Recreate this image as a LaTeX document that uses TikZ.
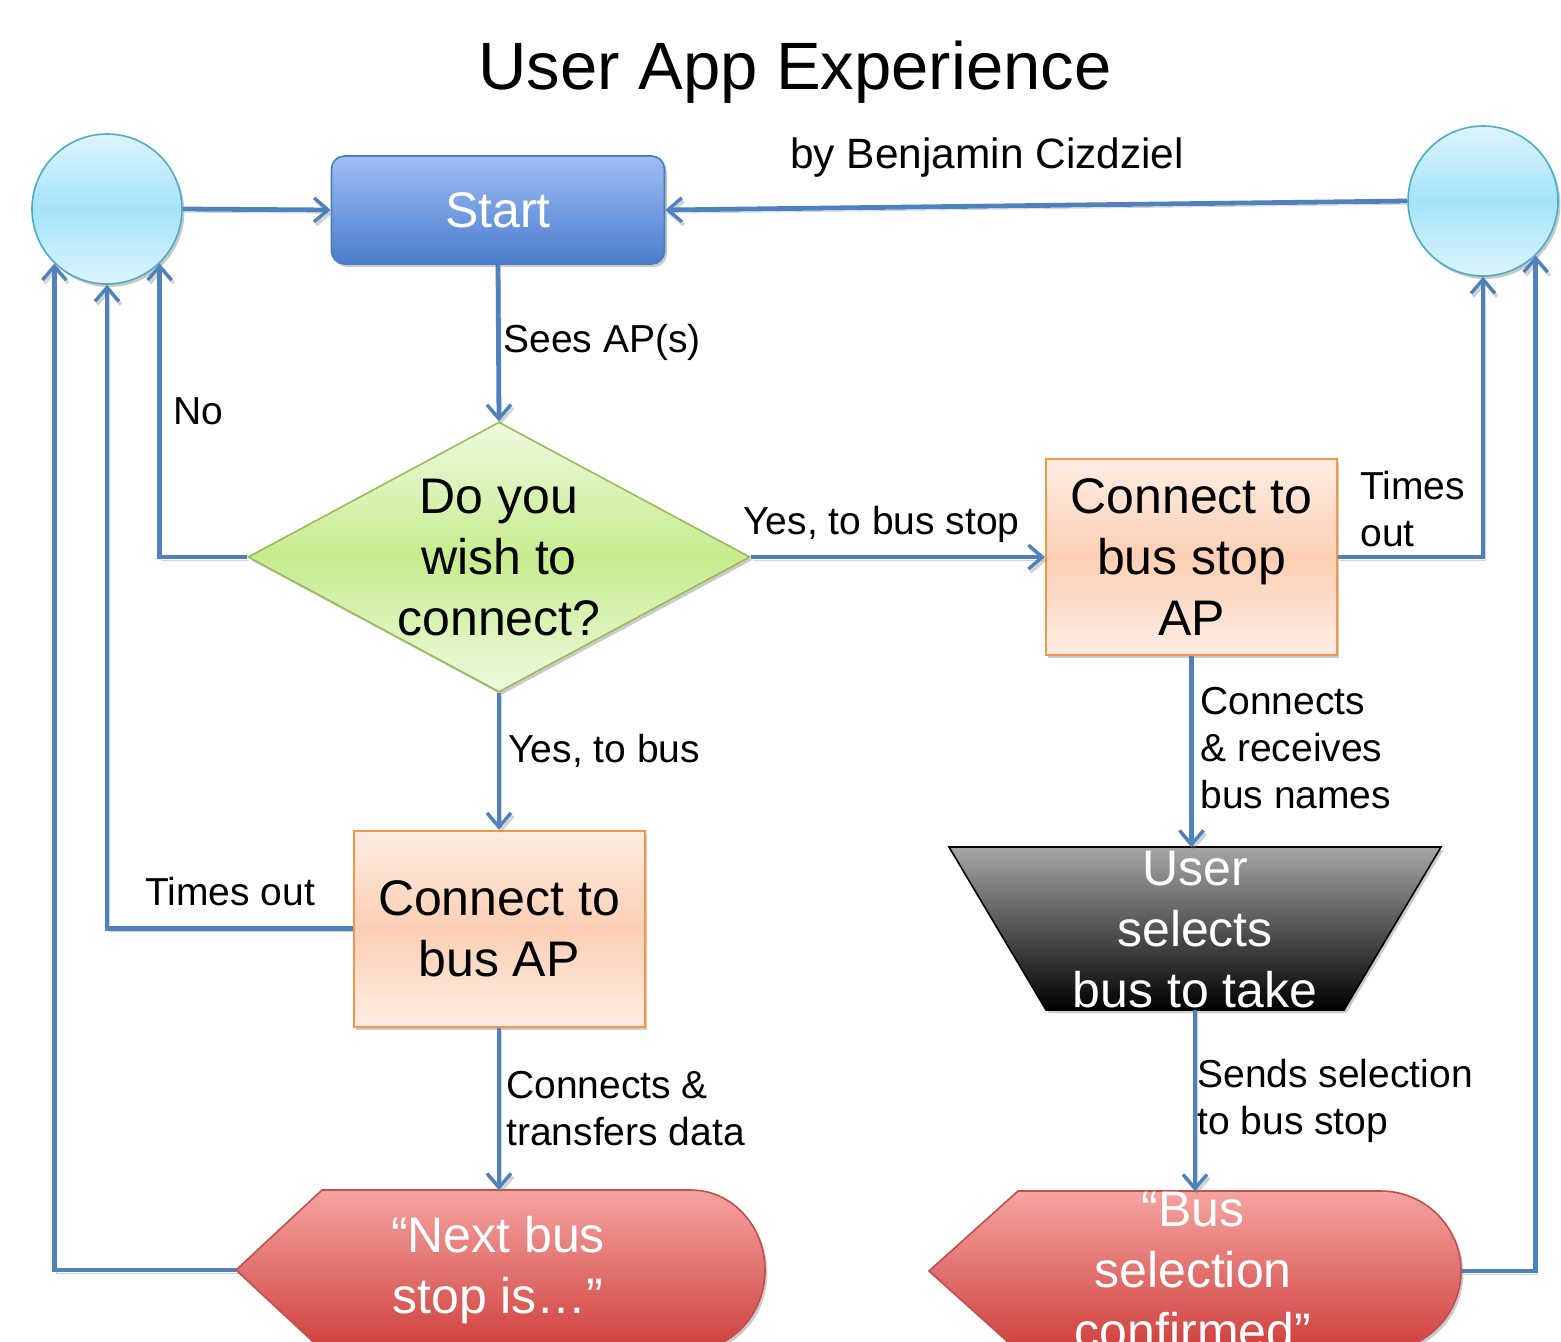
\documentclass[tikz,border=0pt]{standalone}
\usepackage{fontspec}
\setmainfont{Liberation Sans}
\usetikzlibrary{shapes.geometric,arrows.meta,shadows}

\definecolor{flow}{HTML}{4F81BD}
\definecolor{circb}{HTML}{4BACC6}
\definecolor{circl}{HTML}{DDF4FD}
\definecolor{circm}{HTML}{A5E3FA}
\definecolor{startb}{HTML}{4A7EBB}
\definecolor{startt}{HTML}{A0BDF6}
\definecolor{startbot}{HTML}{4A7DCC}
\definecolor{diab}{HTML}{9BBB59}
\definecolor{dial}{HTML}{EEFADF}
\definecolor{diam}{HTML}{C6EC8E}
\definecolor{procb}{HTML}{F79646}
\definecolor{procl}{HTML}{FEEDE4}
\definecolor{procm}{HTML}{FCCFB4}
\definecolor{dispb}{HTML}{C0504D}
\definecolor{dispt}{HTML}{F5A4A1}
\definecolor{dispbot}{HTML}{CF3F3C}
\definecolor{trapt}{HTML}{A6A6A6}

\begin{document}
\begin{tikzpicture}[x=0.5pt,y=-0.5pt,
  shapetext/.style={font=\fontsize{25}{30.5}\selectfont, align=center, inner sep=0pt},
  lbl/.style={font=\fontsize{19.5}{23.5}\selectfont, align=left, anchor=west, inner sep=0pt},
  softshadow/.style={drop shadow={shadow xshift=1.2pt, shadow yshift=-1.5pt, opacity=.35, fill=black!60}},
  flowline/.style={draw=flow, line width=2.4pt,
    -{Straight Barb[length=7pt,width=12pt,line width=1.7pt]},
    preaction={draw=black!50, opacity=.35, transform canvas={shift={(1pt,-1.6pt)}}}},
  circ/.style={circle, draw=circb, line width=0.8pt, minimum size=75pt, inner sep=0pt,
    top color=circl, bottom color=circl, middle color=circm, softshadow},
  startbox/.style={rectangle, rounded corners=6.5pt, draw=startb, line width=0.8pt,
    minimum width=166.5pt, minimum height=54pt, top color=startt, bottom color=startbot,
    text=white, shapetext, softshadow},
  procbox/.style={rectangle, draw=procb, line width=1pt, minimum width=145.5pt,
    minimum height=98pt, top color=procl, bottom color=procl, middle color=procm,
    shapetext, softshadow},
  decision/.style={diamond, draw=diab, line width=0.8pt, minimum width=251pt,
    minimum height=135pt, inner sep=0pt, top color=dial, bottom color=dial,
    middle color=diam, softshadow},
  manual/.style={draw=black, line width=0.8pt, top color=trapt, bottom color=black, softshadow},
  display/.style={draw=dispb, line width=0.8pt, top color=dispt, bottom color=dispbot, softshadow}
]
\useasboundingbox (0,0) rectangle (1561,1341);
\clip (0,0) rectangle (1561,1341);

% headings
\node[font=\fontsize{33.5}{40}\selectfont, inner sep=0pt] (title) at (795,72) {User App Experience};
\node[font=\fontsize{21.2}{25}\selectfont, anchor=west, inner sep=0pt] (by) at (790,158) {by Benjamin Cizdziel};

% connector circles
\node[circ] (cl) at (107,209) {};
\node[circ] (cr) at (1483,201) {};

% start, decision and process boxes
\node[startbox] (start) at (498,210) {Start};
\node[decision] (dia) at (499,557) {};
\node[shapetext] (diaT) at (499,558) {Do you\\wish to\\connect?};
\node[procbox] (boxS) at (1191.5,557) {Connect to\\bus stop\\AP};
\node[procbox] (boxB) at (499,928.5) {Connect to\\bus AP};

% manual input: user picks a bus
\path[manual] (949,847) -- (1441,847) -- (1344,1010) -- (1046,1010) -- cycle;
\coordinate (trapN) at (1195,847);
\coordinate (trapS) at (1195,1010);
\node[shapetext, text=white] (trapT) at (1195,930) {User\\selects\\bus to take};

% display shapes
\path[display] (236,1270) -- (322,1190) -- (691,1190)
  .. controls (732,1190) and (765,1226) .. (765,1270)
  .. controls (765,1314) and (732,1350) .. (691,1350) -- (322,1350) -- cycle;
\coordinate (dlN) at (499,1190);
\coordinate (dlW) at (236,1270);
\node[shapetext, text=white] (dlT) at (498,1270) {“Next bus\\stop is…”};

\path[display] (929,1271) -- (1018,1191) -- (1381,1191)
  .. controls (1425,1191) and (1461,1227) .. (1461,1271)
  .. controls (1461,1315) and (1425,1351) .. (1381,1351) -- (1018,1351) -- cycle;
\coordinate (drN) at (1195,1191);
\coordinate (drE) at (1461,1271);
\node[shapetext, text=white] (drT) at (1193,1271) {“Bus\\selection\\confirmed”};

% connectors
\draw[flowline] (cl.east) -- (start.west);
\draw[flowline] (cr.west) -- (start.east);
\draw[flowline] (start.south) -- (dia.north);
\draw[flowline] (dia.west) -| (cl.-46);
\draw[flowline] (dia.east) -- (boxS.west);
\draw[flowline] (boxS.east) -| (cr.south);
\draw[flowline] (boxS.south) -- (boxS.south |- trapN);
\draw[flowline] (trapS) -- (drN);
\draw[flowline] (drE) -| (cr.-46);
\draw[flowline] (dia.south) -- (boxB.north);
\draw[flowline] (boxB.west) -| (cl.south);
\draw[flowline] (boxB.south) -- (dlN);
\draw[flowline] (dlW) -| (cl.-134);

% connector labels
\node[lbl] (lSees) at (503,342) {Sees AP(s)};
\node[lbl] (lNo) at (173,411) {No};
\node[lbl] (lYesStop) at (743,524) {Yes, to bus stop};
\node[lbl] (lTimesR) at (1360,509) {Times\\out};
\node[lbl] (lConnR) at (1200,748) {Connects\\\& receives\\bus names};
\node[lbl] (lSends) at (1197,1101) {Sends selection\\to bus stop};
\node[lbl] (lYesBus) at (508,751) {Yes, to bus};
\node[lbl] (lTimesL) at (145,892) {Times out};
\node[lbl] (lConnL) at (506,1109) {Connects \&\\transfers data};
\end{tikzpicture}
\end{document}
